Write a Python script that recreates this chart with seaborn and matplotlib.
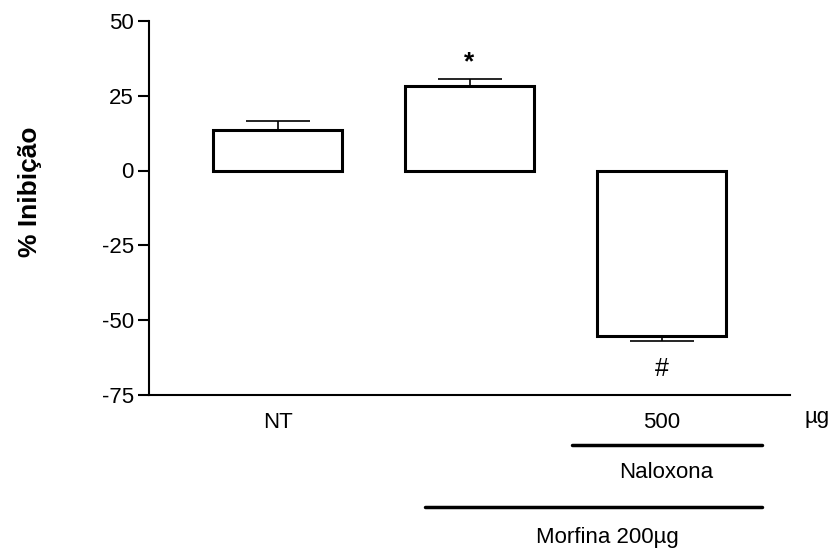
import pandas as pd
import numpy as np
import matplotlib.pyplot as plt
import seaborn as sns

# dados
grupos = ['NT', 'Morfina', 'Morfina + Naloxona']
inibicao = [13.7, 28.1, -55.2]
erro = [3.0, 2.4, 1.7]
rotulos_x = ['NT', '', '500']
marcas = ['', '*', '#']

sns.set_theme(style='ticks')
plt.rcParams['font.family'] = ['Liberation Sans', 'DejaVu Sans']
plt.rcParams['axes.unicode_minus'] = False
plt.rcParams['text.color'] = 'black'
plt.rcParams['axes.labelcolor'] = 'black'
plt.rcParams['xtick.color'] = 'black'
plt.rcParams['ytick.color'] = 'black'
plt.rcParams['axes.edgecolor'] = 'black'

df = pd.DataFrame({'grupo': grupos, 'inibicao': inibicao})

fig = plt.figure(figsize=(8.37, 5.5), dpi=100)
ax = fig.add_axes([0.178, 0.282, 0.766, 0.680])

sns.barplot(data=df, x='grupo', y='inibicao', color='white', edgecolor='black',
            linewidth=2.2, width=0.67, errorbar=None, ax=ax, saturation=1)

# erro só no sentido da barra
lower = [e if v < 0 else 0 for v, e in zip(inibicao, erro)]
upper = [e if v >= 0 else 0 for v, e in zip(inibicao, erro)]
ax.errorbar(range(len(grupos)), inibicao, yerr=[lower, upper], fmt='none',
            ecolor='black', elinewidth=1.2, capsize=23, capthick=1.2, zorder=3)

for i, (v, e, m) in enumerate(zip(inibicao, erro, marcas)):
    if not m:
        continue
    if v >= 0:
        ax.text(i, v + e + 5.5, m, ha='center', va='center', fontsize=19, fontweight='bold')
    else:
        ax.text(i, v - e - 9.5, m, ha='center', va='center', fontsize=18)

ax.set_ylim(-75, 50)
ax.set_yticks([-75, -50, -25, 0, 25, 50])
ax.set_xlim(-0.67, 2.67)
ax.set_xticks(range(len(grupos)))
ax.set_xticklabels(rotulos_x)
ax.tick_params(axis='x', length=0, pad=12, labelsize=16)
ax.tick_params(axis='y', length=8, width=1.5, labelsize=16, pad=3)
ax.set_xlabel('')
ax.set_ylabel('% Inibição', fontsize=19, fontweight='bold')
ax.yaxis.set_label_coords(-0.167, 0.543)
for s in ['left', 'bottom']:
    ax.spines[s].set_linewidth(1.5)
sns.despine(ax=ax)

# anotações abaixo do eixo
fig.text(817 / 837, 1 - 418 / 550, 'µg', ha='center', va='center', fontsize=16)
fig.add_artist(plt.Line2D([572 / 837, 762 / 837], [1 - 445 / 550] * 2, color='black', lw=2.5))
fig.text(666 / 837, 1 - 473 / 550, 'Naloxona', ha='center', va='center', fontsize=16)
fig.add_artist(plt.Line2D([425 / 837, 762 / 837], [1 - 507 / 550] * 2, color='black', lw=2.5))
fig.text(607 / 837, 1 - 538 / 550, 'Morfina 200µg', ha='center', va='center', fontsize=16)

plt.savefig('out.png', dpi=100)
